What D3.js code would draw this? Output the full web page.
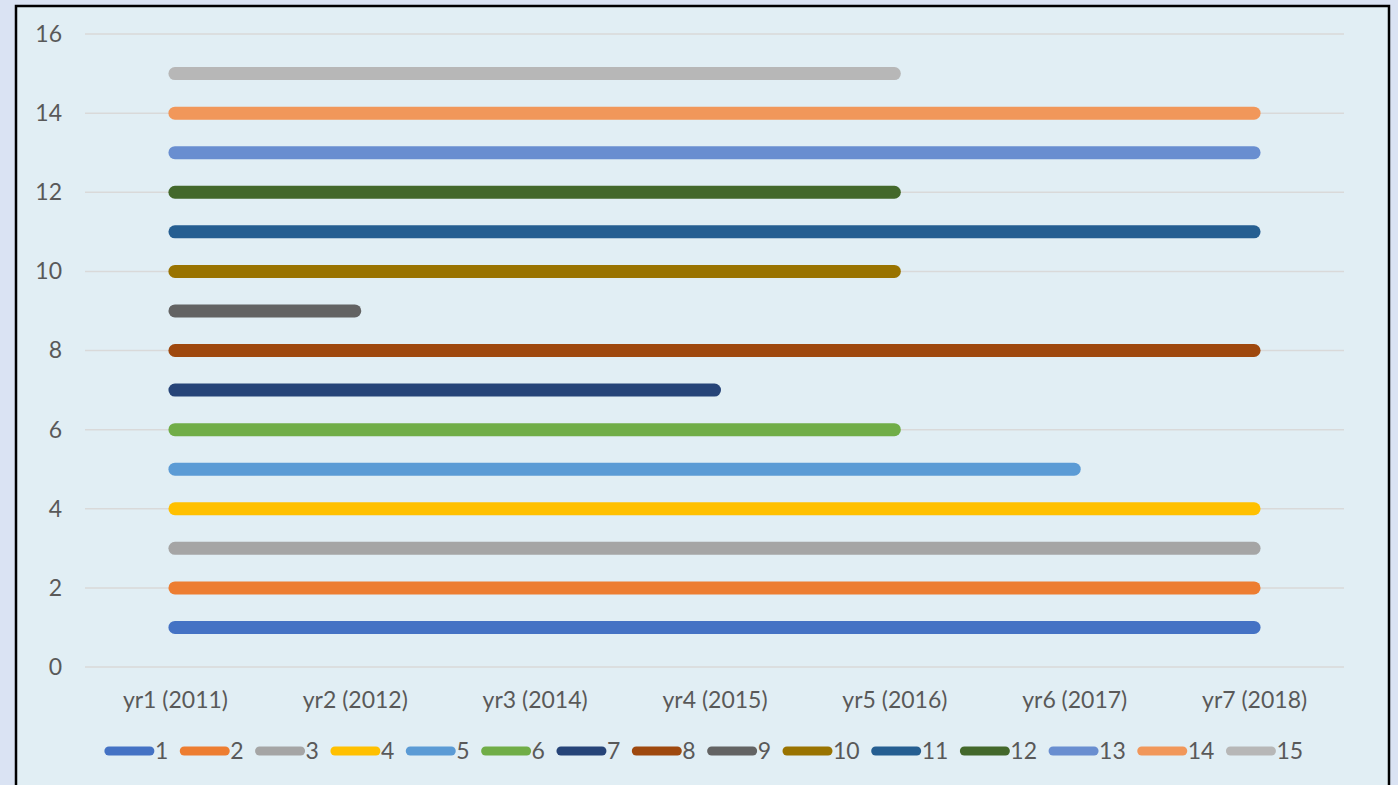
<!DOCTYPE html>
<html>
<head>
<meta charset="utf-8">
<script src="https://cdn.jsdelivr.net/npm/d3@7"></script>
<style>
  html, body { margin: 0; padding: 0; background: #dae3f3; }
  svg { display: block; font-family: Lato, "Open Sans", sans-serif; }
</style>
</head>
<body>
<div id="grafico"></div>
<script>
// categorias do eixo x
const anos = ["yr1 (2011)", "yr2 (2012)", "yr3 (2014)", "yr4 (2015)", "yr5 (2016)", "yr6 (2017)", "yr7 (2018)"];

// valores das séries (null = sem ponto)
const serie1  = [1, 1, 1, 1, 1, 1, 1];
const serie2  = [2, 2, 2, 2, 2, 2, 2];
const serie3  = [3, 3, 3, 3, 3, 3, 3];
const serie4  = [4, 4, 4, 4, 4, 4, 4];
const serie5  = [5, 5, 5, 5, 5, 5, null];
const serie6  = [6, 6, 6, 6, 6, null, null];
const serie7  = [7, 7, 7, 7, null, null, null];
const serie8  = [8, 8, 8, 8, 8, 8, 8];
const serie9  = [9, 9, null, null, null, null, null];
const serie10 = [10, 10, 10, 10, 10, null, null];
const serie11 = [11, 11, 11, 11, 11, 11, 11];
const serie12 = [12, 12, 12, 12, 12, null, null];
const serie13 = [13, 13, 13, 13, 13, 13, 13];
const serie14 = [14, 14, 14, 14, 14, 14, 14];
const serie15 = [15, 15, 15, 15, 15, null, null];

const nomesSeries = ["1", "2", "3", "4", "5", "6", "7", "8", "9", "10", "11", "12", "13", "14", "15"];
const valoresY = [0, 2, 4, 6, 8, 10, 12, 14, 16];

const series = [serie1, serie2, serie3, serie4, serie5, serie6, serie7, serie8,
                serie9, serie10, serie11, serie12, serie13, serie14, serie15];

const cores = ["#4472C4", "#ED7D31", "#A5A5A5", "#FFC000", "#5B9BD5", "#70AD47", "#264478",
               "#9E480E", "#636363", "#997300", "#255E91", "#43682B", "#698ED0", "#F1975A", "#B7B7B7"];

const width = 1398, height = 785;
const marginLeft = 85, marginRight = 54, marginTop = 33, marginBottom = 118;
const tamanhoFonte = 23;

const svg = d3.select("#grafico").append("svg")
    .attr("width", width)
    .attr("height", height)
    .attr("viewBox", [0, 0, width, height]);

// moldura do gráfico
svg.append("rect")
    .attr("x", 16).attr("y", 6)
    .attr("width", 1373).attr("height", 800)
    .attr("fill", "#e1eef4")
    .attr("stroke", "#000")
    .attr("stroke-width", 2.5);

const x = d3.scalePoint()
    .domain(anos)
    .range([marginLeft, width - marginRight])
    .padding(0.5);

const y = d3.scaleLinear()
    .domain([0, 16])
    .range([height - marginBottom, marginTop + 1]);

// grelha horizontal
svg.append("g")
    .selectAll("line")
    .data(valoresY)
    .join("line")
    .attr("x1", marginLeft)
    .attr("x2", width - marginRight)
    .attr("y1", d => y(d))
    .attr("y2", d => y(d))
    .attr("stroke", "#d9d9d9")
    .attr("stroke-width", 1.5);

// eixo y
const eixoY = svg.append("g")
    .attr("transform", `translate(${marginLeft - 23},0)`)
    .call(d3.axisLeft(y).tickValues(valoresY).tickSize(0).tickPadding(0));
eixoY.select(".domain").remove();
eixoY.selectAll("text")
    .attr("font-size", tamanhoFonte)
    .attr("font-family", "Lato, sans-serif")
    .attr("fill", "#595959");

// eixo x
const eixoX = svg.append("g")
    .attr("transform", `translate(0,${height - marginBottom})`)
    .call(d3.axisBottom(x).tickSize(0).tickPadding(25));
eixoX.select(".domain").remove();
eixoX.selectAll("text")
    .attr("font-size", tamanhoFonte)
    .attr("font-family", "Lato, sans-serif")
    .attr("fill", "#595959");

// linhas
const linha = d3.line()
    .defined(d => d.v !== null)
    .x(d => x(d.ano))
    .y(d => y(d.v));

svg.append("g")
    .selectAll("path")
    .data(series)
    .join("path")
    .attr("d", s => linha(s.map((v, i) => ({ano: anos[i], v}))))
    .attr("fill", "none")
    .attr("stroke", (s, i) => cores[i])
    .attr("stroke-width", 13)
    .attr("stroke-linecap", "round");

// legenda
const legenda = svg.append("g");
let pos = 0;
nomesSeries.forEach((nome, i) => {
    const g = legenda.append("g").attr("transform", `translate(${pos},0)`);
    g.append("line")
        .attr("x1", 4).attr("x2", 45)
        .attr("y1", 0).attr("y2", 0)
        .attr("stroke", cores[i])
        .attr("stroke-width", 9)
        .attr("stroke-linecap", "round");
    const t = g.append("text")
        .attr("x", 50)
        .attr("y", 0)
        .attr("dy", "0.35em")
        .attr("font-size", tamanhoFonte)
        .attr("fill", "#595959")
        .text(nome);
    pos += 50 + t.node().getComputedTextLength() + 12;
});
const larguraLegenda = pos - 12;
legenda.attr("transform", `translate(${704 - larguraLegenda / 2},751)`);
</script>
</body>
</html>
